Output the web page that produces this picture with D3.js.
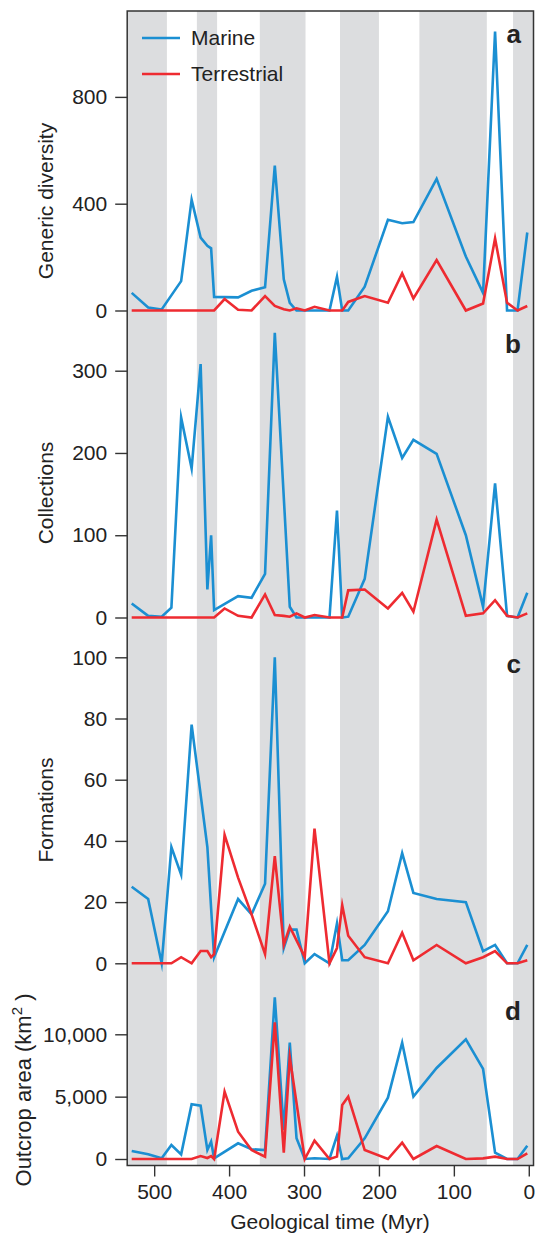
<!DOCTYPE html>
<html lang="en">
<head>
<meta charset="utf-8">
<title>Marine and terrestrial records</title>
<script src="https://d3js.org/d3.v7.min.js"></script>
<style>
* { margin: 0; padding: 0; }
body { background: #fff; font-family: "Liberation Sans", Arial, sans-serif; }
.tick text { font-family: "Liberation Sans", Arial, sans-serif; font-size: 21px; fill: #222; }
.tick line { stroke: #333; stroke-width: 1.4; }
</style>
</head>
<body>
<script>
let w = 535;
let h = 1236;

// time points (Myr) shared by all series
let times = [530, 508, 490, 477, 464, 450, 438, 429, 424, 420, 406, 388, 370, 352, 339, 327, 319, 310, 299, 286,
             266, 256, 249, 241, 219, 188, 169, 154, 123, 84, 61, 45, 29, 15, 2];

let marineDiversity = [66, 11, 4, null, 110, 415, 273, 242, 233, 51, 50, 49, 74, 87, 543, 117, 29, 0, 0, 0,
                       0, 126, 0, 0, 89, 340, 327, 331, 493, 202, 66, 1045, 0, 0, 292];
let terrestrialDiversity = [0, 0, 0, 0, 0, 0, 0, 0, 0, 0, 43, 3, 0, 54, 17, 5, 0, 8, 0, 14,
                            0, 0, 0, 32, 54, 29, 139, 45, 189, 0, 26, 270, 29, 0, 17];

let marineCollections = [17, 2, 1, 12, 243, 181, 308, 34, 100, 9, null, 26, 24, 53, 346, null, 13, 0, 0, 0,
                         0, 130, 0, 1, 47, 244, 194, 216, 199, 100, 13, 163, 2, 0, 30];
let terrestrialCollections = [0, 0, 0, 0, 0, 0, 0, 0, 0, 0, 11, 2, 0, 28, 3, 2, 1, 5, 0, 3,
                              0, 0, 0, 33, 34, 11, 30, 7, 119, 2, 5, 21, 2, 0, 5];

let marineFormations = [25, 21, 0, 38, 29, 78, null, 38, null, 2, null, 21, 16, 26, 100, 5, 11, 11, 0, 3,
                        0, 13, 1, 1, 6, 17, 36, 23, 21, 20, 4, 6, 0, 0, 6];
let terrestrialFormations = [0, 0, 0, 0, 2, 0, 4, 4, 2, 3, 42, 28, 16, 3, 35, 6, 12, null, 2, 44,
                             0, 5, 19, 9, 2, 0, 10, 1, 6, 0, 2, 4, 0, 0, 1];

let marineOutcrop = [640, 375, 53, 1120, 375, 4390, 4280, 720, 1390, 55, null, 1260, 780, 720, 12970, 2330, 9330, 1660, 0, 55,
                     0, 1870, 0, 50, 1660, 4920, 9330, 5000, 7300, 9600, 7220, 510, 0, 0, 1070];
let terrestrialOutcrop = [0, 0, 0, 0, 0, 0, 240, 80, 240, 0, 5400, 2190, 720, 190, 10960, 510, 8160, null, 0, 1470,
                          0, 190, 4330, 5000, 720, 0, 1310, 0, 1040, 0, 50, 190, 0, 0, 460];

// shaded geological periods (start, end in Myr)
let bandStart = [545, 443, 359, 252, 146, 21];
let bandEnd = [483, 416, 298, 200, 56, -10];

let xTicks = [500, 400, 300, 200, 100, 0];

let seriesNames = ["Marine", "Terrestrial"];
let seriesColors = ["#1b8fd2", "#ee2b31"];

let frameLeft = 127.2, frameRight = 533.5, frameTop = 11, frameBottom = 1165.5;

// panel layout: zero line pixel, top tick pixel
let panels = [
  {label: "a", title: "Generic diversity", max: 800, zeroY: 310.5, maxY: 96.9, ticks: [0, 400, 800],
   marine: marineDiversity, terr: terrestrialDiversity, labelY: 43, titleY: 201, titleX: 53},
  {label: "b", title: "Collections", max: 300, zeroY: 617.5, maxY: 370.7, ticks: [0, 100, 200, 300],
   marine: marineCollections, terr: terrestrialCollections, labelY: 353, titleY: 493, titleX: 53},
  {label: "c", title: "Formations", max: 100, zeroY: 963.3, maxY: 657.3, ticks: [0, 20, 40, 60, 80, 100],
   marine: marineFormations, terr: terrestrialFormations, labelY: 673, titleY: 810, titleX: 53},
  {label: "d", title: null, max: 10000, zeroY: 1159, maxY: 1034.3, ticks: [0, 5000, 10000],
   marine: marineOutcrop, terr: terrestrialOutcrop, labelY: 1020, titleY: 1090, titleX: 31}
];

let x = d3.scaleLinear()
    .domain([536, -6.3])
    .range([frameLeft, frameRight])
    .clamp(true);

let svg = d3.select("body")
  .append("svg")
    .attr("width", w)
    .attr("height", h);

// gray period bands
svg.append("g")
  .selectAll("rect")
  .data(bandStart)
  .enter()
  .append("rect")
    .attr("x", function(d){ return x(d); })
    .attr("y", frameTop)
    .attr("width", function(d, i){ return x(bandEnd[i]) - x(d); })
    .attr("height", frameBottom - frameTop)
    .attr("fill", "#dcdddf");

panels.forEach(function(p){
  let y = d3.scaleLinear().domain([0, p.max]).range([p.zeroY, p.maxY]);

  let line = d3.line()
      .x(function(d){ return x(d.t); })
      .y(function(d){ return y(d.v); });

  [p.marine, p.terr].forEach(function(vals, k){
    let pts = times.map(function(t, i){ return {t: t, v: vals[i]}; })
                   .filter(function(d){ return d.v != null; });
    svg.append("path")
      .datum(pts)
      .attr("d", line)
      .attr("fill", "none")
      .attr("stroke", seriesColors[k])
      .attr("stroke-width", 2.6)
      .attr("stroke-linejoin", "miter")
      .attr("stroke-miterlimit", 10);
  });

  let fmt = p.max >= 10000 ? d3.format(",") : d3.format("d");
  svg.append("g")
    .attr("transform", "translate(" + frameLeft + ",0)")
    .call(d3.axisLeft(y).tickValues(p.ticks).tickFormat(fmt).tickSize(12).tickPadding(8))
    .call(g => g.select(".domain").remove());

  svg.append("text")
    .text(p.label)
    .attr("x", 521)
    .attr("y", p.labelY)
    .attr("text-anchor", "end")
    .attr("font-size", 26)
    .attr("font-weight", "bold")
    .attr("fill", "#222");

  let t = svg.append("text")
    .attr("transform", "translate(" + p.titleX + "," + p.titleY + ") rotate(-90)")
    .attr("text-anchor", "middle")
    .attr("font-size", 21)
    .attr("fill", "#222");
  if (p.title) {
    t.text(p.title);
  } else {
    t.attr("font-size", 22);
    t.append("tspan").text("Outcrop area (km");
    t.append("tspan").text("2").attr("font-size", 15).attr("dy", -9);
    t.append("tspan").text(" )").attr("dy", 9);
  }
});

// x axis
svg.append("g")
  .attr("transform", "translate(0," + frameBottom + ")")
  .call(d3.axisBottom(x).tickValues(xTicks).tickSize(11).tickPadding(8))
  .call(g => g.select(".domain").remove());

svg.append("text")
  .text("Geological time (Myr)")
  .attr("x", 330)
  .attr("y", 1229)
  .attr("text-anchor", "middle")
  .attr("font-size", 21)
  .attr("fill", "#222");

// frame
svg.append("rect")
  .attr("x", frameLeft)
  .attr("y", frameTop)
  .attr("width", frameRight - frameLeft)
  .attr("height", frameBottom - frameTop)
  .attr("fill", "none")
  .attr("stroke", "#333")
  .attr("stroke-width", 1.5);

// legend
let legend = svg.append("g");
seriesNames.forEach(function(name, i){
  let ly = 38 + i * 36;
  legend.append("line")
    .attr("x1", 142).attr("x2", 180)
    .attr("y1", ly).attr("y2", ly)
    .attr("stroke", seriesColors[i])
    .attr("stroke-width", 2.6);
  legend.append("text")
    .text(name)
    .attr("x", 191)
    .attr("y", ly + 7)
    .attr("font-size", 21)
    .attr("fill", "#222");
});
</script>
</body>
</html>
